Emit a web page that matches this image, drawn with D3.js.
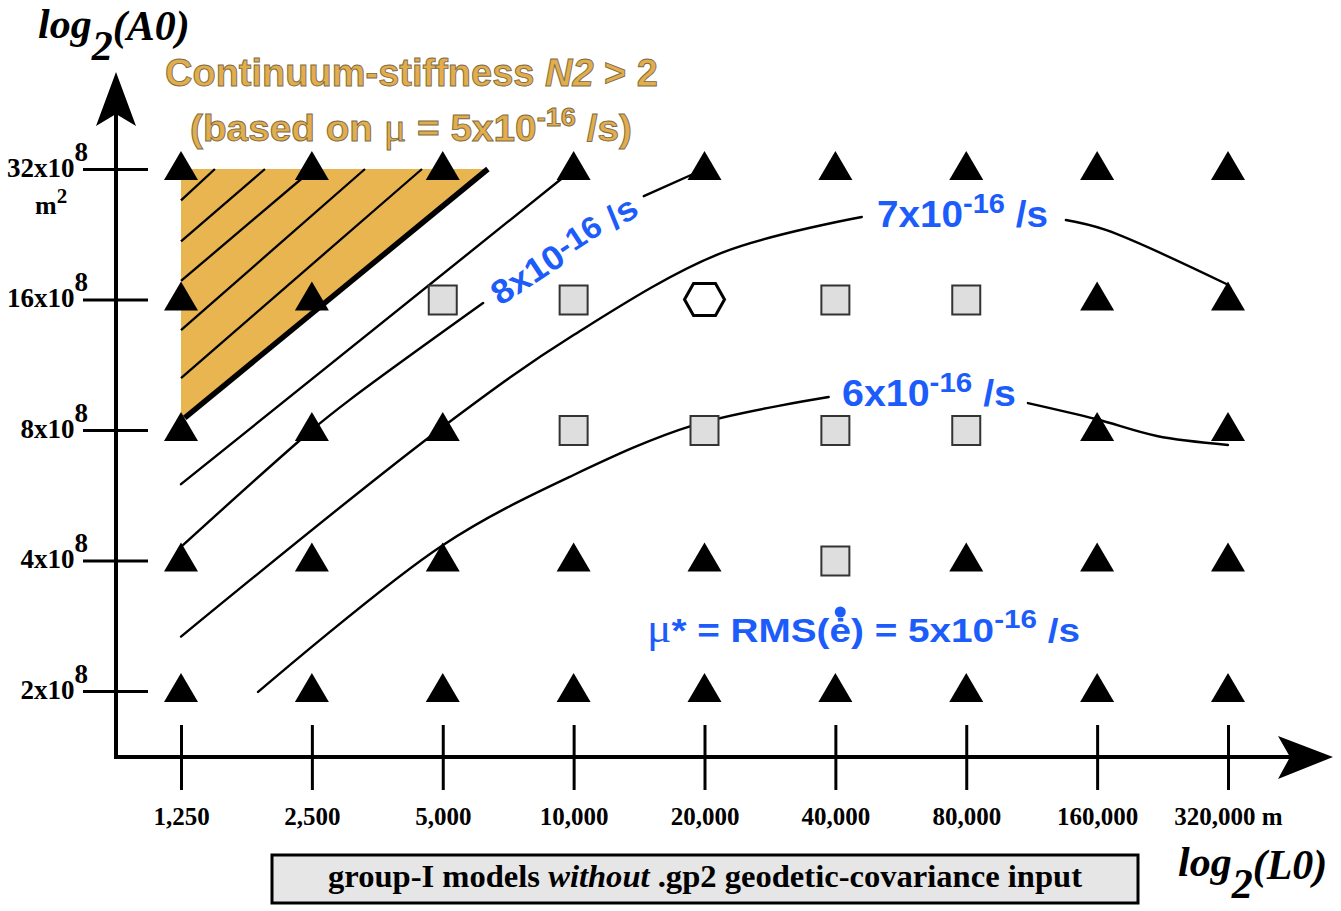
<!DOCTYPE html>
<html>
<head>
<meta charset="utf-8">
<script src="https://cdn.jsdelivr.net/npm/d3@7"></script>
<style>
  html, body { margin: 0; padding: 0; background: #fff; }
  svg { display: block; }
</style>
</head>
<body>
<svg id="chart" width="1341" height="911"></svg>
<script>
// Model grid: correlation length L0 (m) and correlation area A0 (x10^8 m^2)
const lengths = [1250, 2500, 5000, 10000, 20000, 40000, 80000, 160000, 320000];
const areas = [2, 4, 8, 16, 32];
const lengthLabels = ["1,250", "2,500", "5,000", "10,000", "20,000", "40,000", "80,000", "160,000", "320,000 m"];
const areaLabels = ["2x10", "4x10", "8x10", "16x10", "32x10"];

// Outcome of each run, one row per A0 value (tri = rejected, sq = accepted, hex = preferred)
const runsA32 = ["tri", "tri", "tri", "tri", "tri", "tri", "tri", "tri", "tri"];
const runsA16 = ["tri", "tri", "sq", "sq", "hex", "sq", "sq", "tri", "tri"];
const runsA8  = ["tri", "tri", "tri", "sq", "sq", "sq", "sq", "tri", "tri"];
const runsA4  = ["tri", "tri", "tri", "tri", "tri", "sq", "tri", "tri", "tri"];
const runsA2  = ["tri", "tri", "tri", "tri", "tri", "tri", "tri", "tri", "tri"];
const runRows = [[32, runsA32], [16, runsA16], [8, runsA8], [4, runsA4], [2, runsA2]];

// Contours of mu* = RMS strain rate, as [L0, A0] points (broken where labelled)
const contourTop = [[1250, 6.0], [10000, 32]];
const contour8a = [[1250, 4.3], [2500, 8], [3060, 9.4], [6190, 15.7]];
const contour8b = [[14500, 27.7], [20000, 32]];
const contour7a = [[1250, 2.67], [5000, 8.13], [10000, 13.25], [21900, 20.5], [46000, 24.8]];
const contour7b = [[135600, 24.4], [167500, 23.15], [320000, 17.3]];
const contour6a = [[1880, 1.99], [5000, 4.34], [10000, 6.3], [18900, 8.21], [38600, 9.53]];
const contour6b = [[110900, 9.23], [158900, 8.48], [219500, 7.75], [320000, 7.39]];

// Continuum-stiffness region N2 > 2, its boundary and hatching
const stiffRegion = [[1250, 32], [6350, 32], [1250, 8.53]];
const stiffEdge = [[6350, 32], [1275, 8.53]];
const stiffHatch = [
  [[1250, 27.1], [1496, 32]],
  [[1250, 21.8], [1950, 32]],
  [[1250, 17.66], [2515, 32]],
  [[1250, 13.6], [3312, 32]],
  [[1250, 10.54], [4479, 32]]
];

const SANS = "'Liberation Sans', Arial, Helvetica, sans-serif";
const SERIF = "'Liberation Serif', 'Times New Roman', Times, serif";
const BLUE = "#1c5cfa";
const GOLD = "#e8b550";

const svg = d3.select("#chart");
const x = d3.scaleLog().base(2).domain([1250, 320000]).range([181, 1228]);
const y = d3.scaleLog().base(2).domain([2, 32]).range([691, 169]);

const straight = d3.line().x(d => x(d[0])).y(d => y(d[1]));
const smooth = d3.line().x(d => x(d[0])).y(d => y(d[1])).curve(d3.curveCatmullRom.alpha(0.5));

// stiffness region
svg.append("path").attr("d", straight(stiffRegion) + "Z").attr("fill", GOLD);
svg.append("g").selectAll("path").data(stiffHatch).join("path")
  .attr("d", straight).attr("fill", "none").attr("stroke", "#000").attr("stroke-width", 2.3);

// contours
svg.append("g").selectAll("path")
  .data([contourTop, contour8a, contour8b, contour7a, contour7b, contour6a, contour6b]).join("path")
  .attr("d", smooth).attr("fill", "none").attr("stroke", "#000").attr("stroke-width", 2.4)
  .attr("stroke-linecap", "round");

svg.append("path").attr("d", straight(stiffEdge)).attr("fill", "none")
  .attr("stroke", "#000").attr("stroke-width", 5.5);

// axes
const x0 = 116, y0 = 757;
const gx = svg.append("g").attr("transform", `translate(0,${y0})`)
  .call(d3.axisBottom(x).tickValues(lengths).tickFormat((d, i) => lengthLabels[i]).tickSizeOuter(0));
gx.select(".domain").remove();
gx.attr("font-family", SERIF).attr("font-size", 25).attr("font-weight", "bold");
gx.selectAll(".tick line").attr("y1", -32).attr("y2", 33).attr("stroke", "#000").attr("stroke-width", 3);
gx.selectAll(".tick text").attr("y", 68).attr("dy", 0).attr("fill", "#000");

const gy = svg.append("g").attr("transform", `translate(${x0},0)`)
  .call(d3.axisLeft(y).tickValues(areas).tickFormat(() => "").tickSizeOuter(0));
gy.select(".domain").remove();
gy.attr("font-family", SERIF).attr("font-size", 27).attr("font-weight", "bold");
gy.selectAll(".tick line").attr("x1", -33).attr("x2", 32).attr("stroke", "#000").attr("stroke-width", 3);
gy.selectAll(".tick text").attr("x", -28).attr("y", 7).attr("dy", 0).attr("fill", "#000")
  .each(function (d, i) {
    const t = d3.select(this);
    t.append("tspan").text(areaLabels[i]);
    t.append("tspan").attr("dy", -16).text("8");
  });

svg.append("line").attr("x1", x0).attr("x2", 1295).attr("y1", y0).attr("y2", y0)
  .attr("stroke", "#000").attr("stroke-width", 4);
svg.append("line").attr("x1", x0).attr("x2", x0).attr("y1", y0 + 2).attr("y2", 110)
  .attr("stroke", "#000").attr("stroke-width", 4);
svg.append("path").attr("d", `M${x0},72L${x0 + 20},126L${x0},114L${x0 - 20},126Z`).attr("fill", "#000");
svg.append("path").attr("d", `M1333,${y0}L1278,${y0 - 21}L1290,${y0}L1278,${y0 + 22}Z`).attr("fill", "#000");

// run markers
const markers = svg.append("g");
runRows.forEach(([a, kinds]) => {
  kinds.forEach((k, i) => {
    const g = markers.append("g").attr("transform", `translate(${x(lengths[i])},${y(a)})`);
    if (k === "tri") {
      g.append("path").attr("d", "M0,-18L17,11L-17,11Z").attr("fill", "#000");
    } else if (k === "sq") {
      g.append("rect").attr("x", -14).attr("y", -14).attr("width", 28).attr("height", 29)
        .attr("fill", "#dedede").attr("stroke", "#333").attr("stroke-width", 2);
    } else {
      g.append("path").attr("d", "M-20,0L-11,-16L11,-16L20,0L11,16L-11,16Z")
        .attr("fill", "#fff").attr("stroke", "#000").attr("stroke-width", 3);
    }
  });
});

// text helper
function label(parent, opt) {
  const t = parent.append("text")
    .attr("x", opt.x).attr("y", opt.y)
    .attr("font-family", opt.family || SANS)
    .attr("font-size", opt.size)
    .attr("font-weight", opt.weight || "bold")
    .attr("font-style", opt.style || "normal")
    .attr("fill", opt.fill || "#000");
  if (opt.stroke) t.attr("stroke", opt.stroke).attr("stroke-width", opt.strokeWidth || 0.8);
  if (opt.length) t.attr("textLength", opt.length).attr("lengthAdjust", "spacingAndGlyphs");
  opt.parts.forEach(p => {
    const s = t.append("tspan").text(p.t);
    if (p.dy) s.attr("dy", p.dy);
    if (p.size) s.attr("font-size", p.size);
    if (p.style) s.attr("font-style", p.style);
    if (p.family) s.attr("font-family", p.family);
    if (p.weight) s.attr("font-weight", p.weight);
  });
  return t;
}

// axis titles
label(svg, { x: 38, y: 38, size: 42, family: SERIF, style: "italic",
  parts: [{ t: "log" }, { t: "2", dy: 22 }, { t: "(A0)", dy: -20 }] });
label(svg, { x: 1178, y: 876, size: 42, family: SERIF, style: "italic",
  parts: [{ t: "log" }, { t: "2", dy: 22 }, { t: "(L0)", dy: -19 }] });
label(svg, { x: 35, y: 214, size: 26, family: SERIF,
  parts: [{ t: "m" }, { t: "2", size: 21, dy: -11 }] });

// stiffness annotation
label(svg, { x: 165, y: 86, size: 38, fill: "#e2ad4b", stroke: "#7d6a48", strokeWidth: 0.9, length: 493,
  parts: [{ t: "Continuum-stiffness " }, { t: "N2", style: "italic" }, { t: " > 2" }] });
label(svg, { x: 190, y: 141, size: 37, fill: "#e2ad4b", stroke: "#7d6a48", strokeWidth: 0.9, length: 442,
  parts: [{ t: "(based on " }, { t: "\u03bc", family: SERIF, weight: "normal", size: 40 },
    { t: " = 5x10", size: 37 }, { t: "-16", size: 26, dy: -15 }, { t: " /s)", size: 37, dy: 15 }] });

// contour labels
const g8 = svg.append("g").attr("transform", "translate(564,250) rotate(-33.5)");
label(g8, { x: -84, y: 12, size: 34, fill: BLUE, length: 168,
  parts: [{ t: "8x10" }, { t: "-16", size: 31, dy: -5 }, { t: " /s", size: 34, dy: 5 }] });
label(svg, { x: 877, y: 227, size: 36, fill: BLUE, length: 171,
  parts: [{ t: "7x10" }, { t: "-16", size: 27, dy: -14 }, { t: " /s", size: 36, dy: 14 }] });
label(svg, { x: 842, y: 406, size: 36, fill: BLUE, length: 174,
  parts: [{ t: "6x10" }, { t: "-16", size: 27, dy: -14 }, { t: " /s", size: 36, dy: 14 }] });
const muText = label(svg, { x: 647, y: 642, size: 34, fill: BLUE, length: 433,
  parts: [{ t: "\u03bc", family: SERIF, weight: "normal", size: 40 }, { t: "* = RMS(\u0117) = 5x10", size: 34 },
    { t: "-16", size: 26, dy: -14 }, { t: " /s", size: 34, dy: 14 }] });
// enlarge the dot over the strain-rate symbol
const eBox = muText.node().getExtentOfChar(9);
svg.append("circle").attr("cx", eBox.x + eBox.width / 2).attr("cy", 642 - 30).attr("r", 5.5).attr("fill", BLUE);

// model-group caption
svg.append("rect").attr("x", 272).attr("y", 855).attr("width", 866).attr("height", 48)
  .attr("fill", "#e6e6e6").attr("stroke", "#000").attr("stroke-width", 3);
label(svg, { x: 328, y: 887, size: 31, family: SERIF, length: 754,
  parts: [{ t: "group-I models " }, { t: "without", style: "italic" }, { t: " .gp2 geodetic-covariance input" }] });
</script>
</body>
</html>
